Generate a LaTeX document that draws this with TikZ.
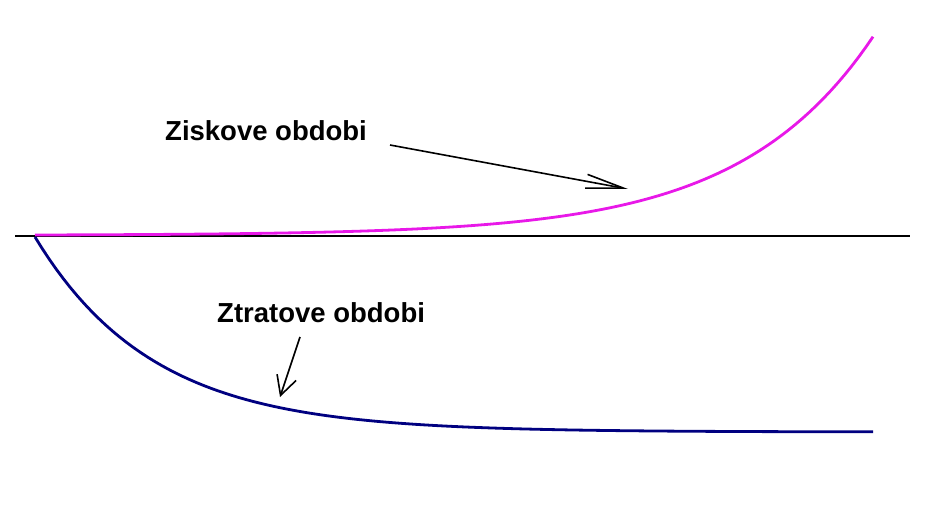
\documentclass[tikz,border=0pt]{standalone}
\usepackage{fontspec}
\setmainfont{Liberation Sans}
\usetikzlibrary{arrows.meta}
\definecolor{ziskcol}{RGB}{232,24,232}
\definecolor{ztratcol}{RGB}{0,0,128}
\begin{document}
\begin{tikzpicture}[x=1pt,y=-1pt,
label/.style={anchor=base west,inner sep=0pt,font=\fontsize{27.5}{30}\bfseries\selectfont},
pointer/.style={line width=1.6pt},
curve/.style={line width=2.8pt,line join=round}]
\useasboundingbox (0,0) rectangle (940,505);
\node[label] (zisk) at (165,141) {Ziskove obdobi};
\node[label] (ztrat) at (217,322) {Ztratove obdobi};
\coordinate (left) at (15,236);
\coordinate (right) at (910,236);
\coordinate (ziskfrom) at (390,145);
\coordinate (ziskto) at (628,189);
\coordinate (ztratfrom) at (300,337);
\coordinate (ztratto) at (280,397);
% osa
\draw[line width=1.4pt] (left) -- (right);
% krivky
\draw[curve,ziskcol] plot[domain=35:873,samples=120] (\x,{235-0.368*(exp(0.0075*(\x-35))-1)});
\draw[curve,ztratcol] plot[domain=35:873,samples=120] (\x,{237+195*(1-exp(-0.0085*(\x-35)))});
% popisky
\draw[pointer,-{Straight Barb[length=38pt,width=14pt]}] (ziskfrom) -- (ziskto);
\draw[pointer,-{Straight Barb[length=19pt,width=20pt]}] (ztratfrom) -- (ztratto);
\end{tikzpicture}
\end{document}
